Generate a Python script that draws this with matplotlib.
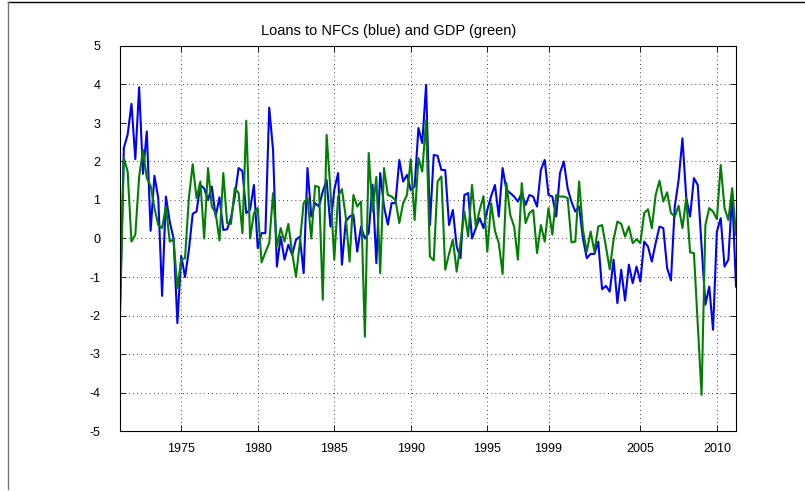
import matplotlib.pyplot as plt
import numpy as np
from matplotlib.lines import Line2D

# quarterly growth, 1971Q1 .. 2011Q2
blue = [-1.8, 2.35, 2.7, 3.5, 2.06, 3.93, 1.68, 2.78, 0.2, 1.63,
        1.05, -1.49, 1.09, 0.44, 0.0, -2.2, -0.45, -1.0, -0.3, 0.64,
        0.7, 1.39, 1.3, 1.0, 1.35, 0.57, 1.07, 0.22, 0.24, 0.53,
        1.09, 1.83, 1.75, 0.66, 0.75, 1.39, -0.25, 0.14, 0.14, 3.4,
        2.3, -0.73, 0.05, -0.55, -0.16, -0.42, -0.03, 0.05, -0.9, 1.83,
        0.57, 0.92, 0.83, 1.22, 1.52, 0.31, 1.26, 1.7, -0.68, 0.44,
        0.57, 0.62, -0.34, 0.31, 0.0, 0.14, 1.4, -0.64, 1.7, 0.83,
        0.36, 0.92, 0.92, 2.04, 1.48, 1.65, 1.26, 1.35, 2.87, 2.48,
        3.99, 0.35, 2.17, 2.15, 1.78, 1.78, 0.35, 0.74, -0.21, -0.51,
        1.13, 1.18, 0.0, 0.27, 0.53, 0.27, 0.74, 1.1, 1.39, 0.57,
        1.83, 1.26, 1.18, 1.09, 0.96, 1.18, 0.87, 1.13, 1.09, 0.83,
        1.78, 2.04, 1.13, 1.09, 0.57, 1.7, 2.0, 1.3, 0.95, 0.7,
        0.83, 0.0, -0.51, -0.4, -0.4, -0.08, -1.32, -1.23, -1.38, -0.55,
        -1.68, -0.81, -1.61, -0.68, -1.16, -0.73, -1.12, -0.08, -0.21, -0.6,
        -0.12, 0.31, 0.27, -0.77, -1.09, 0.83, 1.52, 2.6, 1.05, 0.57,
        1.57, 1.39, -0.2, -1.72, -1.25, -2.37, 0.18, 0.53, -0.73, -0.55,
        1.18, -1.25]

green = [-2.0, 2.09, 1.74, -0.08, 0.1, 1.6, 2.3, 1.57, 1.37, 0.79,
         0.35, 0.27, 0.83, -0.08, -0.02, -1.29, -0.55, -0.51, 1.05, 1.93,
         1.05, 1.48, 0.0, 1.83, 0.83, 0.66, -0.05, 1.7, 0.4, 0.38,
         1.31, 1.18, 0.14, 3.06, 0.0, 0.66, 0.79, -0.62, -0.36, -0.12,
         1.18, -0.2, 0.27, -0.08, 0.38, -0.38, -0.99, -0.12, 0.92, 1.05,
         0.0, 1.37, 1.33, -1.59, 2.69, 1.26, -0.55, 1.09, 1.28, 0.57,
         -0.6, 1.13, 0.83, 0.96, -2.55, 2.22, 0.7, 1.6, -0.9, 1.83,
         1.13, 1.09, 1.0, 0.4, 0.92, 1.13, 2.06, 0.48, 2.09, 1.74,
         3.08, -0.47, -0.57, 1.48, 1.61, -0.81, -0.4, -0.03, -0.86, -0.1,
         0.7, 0.05, 1.39, 0.31, 0.74, 1.1, -0.34, 0.92, 0.2, -0.12,
         -0.92, 1.44, 0.61, 0.31, -0.55, 1.44, 0.4, 0.66, 0.74, -0.38,
         0.35, -0.08, 0.79, 0.1, 1.13, 1.09, 1.09, 1.05, -0.1, -0.08,
         1.48, 0.22, -0.34, 0.18, -0.34, 0.31, 0.35, -0.21, -0.8, -0.03,
         0.44, 0.38, 0.05, 0.31, -0.12, -0.02, -0.12, 0.66, 0.76, 0.27,
         1.13, 1.5, 0.96, 1.2, 0.66, 0.57, 0.85, 0.27, 1.05, -0.36,
         -0.38, -2.2, -4.06, 0.35, 0.79, 0.7, 0.5, 1.91, 0.79, 0.48,
         1.31, 0.1]

tick_years = [1975, 1980, 1985, 1990, 1995, 1999, 2005, 2010]
tick_labels = ["1975", "1980", "1985", "1990", "1995", "1999", "2005", "2010"]

dates = 1971 + np.arange(len(blue)) / 4.0

plt.rcParams['font.family'] = ['Liberation Sans', 'DejaVu Sans']
plt.rcParams['axes.unicode_minus'] = False

fig = plt.figure(figsize=(8.05, 4.91), dpi=100)
ax = fig.add_axes([120/805, 1 - 431/491, 616/805, 385/491])

ax.plot(dates, blue, color=(0, 0, 1), lw=1.5)
ax.plot(dates, green, color=(0, 0.5, 0), lw=1.5)

ax.set_xlim(dates[0], dates[-1])
ax.set_ylim(-5, 5)
ax.set_yticks(range(-5, 6))
ax.set_xticks(tick_years)
ax.set_xticklabels(tick_labels)
ax.grid(True, linestyle=(0, (1, 4)), color='k', lw=0.6)
ax.tick_params(direction='in', top=True, right=True, length=4, width=0.6,
               labelsize=9)
ax.tick_params(axis='x', pad=9)
ax.tick_params(axis='y', pad=14)
for s in ax.spines.values():
    s.set_linewidth(0.8)

fig.text(389/805, 1 - 31/491, "Loans to NFCs (blue) and GDP (green)",
         ha='center', va='center', fontsize=10.5)

# frame of the exported picture
fig.add_artist(Line2D([7.5/805, 1], [1 - 2/491, 1 - 2/491], color='k', lw=1))
fig.add_artist(Line2D([7.5/805, 7.5/805], [1 - 2/491, 1 - 489/491], color='#777777', lw=1))

fig.savefig("out.png", dpi=100)
